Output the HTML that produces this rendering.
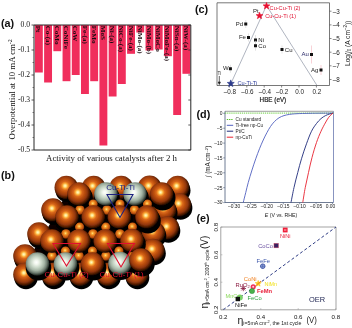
<!DOCTYPE html>
<html><head><meta charset="utf-8"><title>figure</title>
<style>
html,body{margin:0;padding:0;background:#fff;}
body{width:352px;height:328px;overflow:hidden;}
svg{display:block;filter:blur(0.35px);}
text{font-family:"Liberation Sans",sans-serif;}
.ser{font-family:"Liberation Serif",serif;}
.pl{font-weight:bold;font-size:10.8px;fill:#111;}
</style></head><body>
<svg width="352" height="328" viewBox="0 0 352 328">
<defs>
<radialGradient id="cu" cx="0.45" cy="0.43" r="0.58">
<stop offset="0" stop-color="#fffbd0"/><stop offset="0.1" stop-color="#ffe080"/><stop offset="0.2" stop-color="#f8a030"/><stop offset="0.32" stop-color="#d8661a"/><stop offset="0.5" stop-color="#b84c0c"/><stop offset="0.68" stop-color="#94380a"/><stop offset="0.82" stop-color="#5c2004"/><stop offset="0.94" stop-color="#220a00"/><stop offset="1" stop-color="#060100"/>
</radialGradient>
<radialGradient id="cu2" cx="0.45" cy="0.42" r="0.62">
<stop offset="0" stop-color="#ffe890"/><stop offset="0.16" stop-color="#fbb440"/><stop offset="0.4" stop-color="#e67c1a"/><stop offset="0.7" stop-color="#bc500e"/><stop offset="1" stop-color="#4a1a02"/>
</radialGradient>
<radialGradient id="ti" cx="0.45" cy="0.43" r="0.58">
<stop offset="0" stop-color="#ffffff"/><stop offset="0.15" stop-color="#f2f7ee"/><stop offset="0.4" stop-color="#c8d6c6"/><stop offset="0.6" stop-color="#a4b4a4"/><stop offset="0.78" stop-color="#6e7c70"/><stop offset="0.92" stop-color="#2e3830"/><stop offset="1" stop-color="#0a0e0a"/>
</radialGradient>
<filter id="soft" x="-5%" y="-5%" width="110%" height="110%"><feGaussianBlur stdDeviation="0.6"/></filter>
</defs>
<rect width="352" height="328" fill="#fff"/>

<g id="pa">
<text class="pl" x="1" y="26.8">(a)</text>
<rect x="34.90" y="25" width="7.9" height="47.5" fill="#f02e5c"/>
<rect x="44.12" y="25" width="7.9" height="57.5" fill="#f02e5c"/>
<rect x="53.34" y="25" width="7.9" height="26.2" fill="#f02e5c"/>
<rect x="62.56" y="25" width="7.9" height="56.2" fill="#f02e5c"/>
<rect x="71.78" y="25" width="7.9" height="50.0" fill="#f02e5c"/>
<rect x="81.00" y="25" width="7.9" height="69.0" fill="#f02e5c"/>
<rect x="90.22" y="25" width="7.9" height="56.2" fill="#f02e5c"/>
<rect x="99.44" y="25" width="7.9" height="120.5" fill="#f02e5c"/>
<rect x="108.66" y="25" width="7.9" height="71.5" fill="#f02e5c"/>
<rect x="117.88" y="25" width="7.9" height="59.0" fill="#f02e5c"/>
<rect x="127.10" y="25" width="7.9" height="28.8" fill="#f02e5c"/>
<rect x="136.32" y="25" width="7.9" height="7.5" fill="#f02e5c"/>
<rect x="145.54" y="25" width="7.9" height="25.5" fill="#f02e5c"/>
<rect x="154.76" y="25" width="7.9" height="24.5" fill="#f02e5c"/>
<rect x="163.98" y="25" width="7.9" height="31.2" fill="#f02e5c"/>
<rect x="173.20" y="25" width="7.9" height="90.0" fill="#f02e5c"/>
<rect x="182.42" y="25" width="7.9" height="48.8" fill="#f02e5c"/>
<text class="ser" transform="translate(36.40,25.7) rotate(90)" font-size="7.1" font-weight="bold" fill="#1a0a10">Pt</text>
<text class="ser" transform="translate(45.62,25.7) rotate(90)" font-size="7.1" font-weight="bold" fill="#1a0a10">Co-(a)</text>
<text class="ser" transform="translate(54.84,25.7) rotate(90)" font-size="7.1" font-weight="bold" fill="#1a0a10">CoMo</text>
<text class="ser" transform="translate(64.06,25.7) rotate(90)" font-size="7.1" font-weight="bold" fill="#1a0a10">CoNiFe</text>
<text class="ser" transform="translate(73.28,25.7) rotate(90)" font-size="7.1" font-weight="bold" fill="#1a0a10">CoW</text>
<text class="ser" transform="translate(82.50,25.7) rotate(90)" font-size="7.1" font-weight="bold" fill="#1a0a10">Fe-(a)</text>
<text class="ser" transform="translate(91.72,25.7) rotate(90)" font-size="7.1" font-weight="bold" fill="#1a0a10">FeMo</text>
<text class="ser" transform="translate(100.94,25.7) rotate(90)" font-size="7.1" font-weight="bold" fill="#1a0a10">MoS</text>
<text class="ser" transform="translate(110.16,25.7) rotate(90)" font-size="7.1" font-weight="bold" fill="#1a0a10">Ni-(a)</text>
<text class="ser" transform="translate(119.38,25.7) rotate(90)" font-size="7.1" font-weight="bold" fill="#1a0a10">NiCo-(a)</text>
<text class="ser" transform="translate(128.60,25.7) rotate(90)" font-size="7.1" font-weight="bold" fill="#1a0a10">NiFe-(a)</text>
<text class="ser" transform="translate(137.82,25.7) rotate(90)" font-size="7.1" font-weight="bold" fill="#1a0a10">NiMo-(a)</text>
<text class="ser" transform="translate(147.04,25.7) rotate(90)" font-size="7.1" font-weight="bold" fill="#1a0a10">NiMo-(b)</text>
<text class="ser" transform="translate(156.26,25.7) rotate(90)" font-size="7.1" font-weight="bold" fill="#1a0a10">NiMoCo</text>
<text class="ser" transform="translate(165.48,25.7) rotate(90)" font-size="7.1" font-weight="bold" fill="#1a0a10">NiMoFe-(a)</text>
<text class="ser" transform="translate(174.70,25.7) rotate(90)" font-size="7.1" font-weight="bold" fill="#1a0a10">NiSn-(a)</text>
<text class="ser" transform="translate(183.92,25.7) rotate(90)" font-size="7.1" font-weight="bold" fill="#1a0a10">NiW-(a)</text>
<path d="M34 25H190.8V150H34Z" fill="none" stroke="#262626" stroke-width="1"/>
<path d="M34 25h-2.5M190.8 25h-2.5" stroke="#333" stroke-width="0.8"/>
<text class="ser" x="30.1" y="27.0" font-size="7.6" text-anchor="end" fill="#111">0.0</text>
<path d="M34 50h-2.5M190.8 50h-2.5" stroke="#333" stroke-width="0.8"/>
<text class="ser" x="30.1" y="52.0" font-size="7.6" text-anchor="end" fill="#111">-0.1</text>
<path d="M34 75h-2.5M190.8 75h-2.5" stroke="#333" stroke-width="0.8"/>
<text class="ser" x="30.1" y="77.0" font-size="7.6" text-anchor="end" fill="#111">-0.2</text>
<path d="M34 100h-2.5M190.8 100h-2.5" stroke="#333" stroke-width="0.8"/>
<text class="ser" x="30.1" y="102.0" font-size="7.6" text-anchor="end" fill="#111">-0.3</text>
<path d="M34 125h-2.5M190.8 125h-2.5" stroke="#333" stroke-width="0.8"/>
<text class="ser" x="30.1" y="127.0" font-size="7.6" text-anchor="end" fill="#111">-0.4</text>
<path d="M34 150h-2.5M190.8 150h-2.5" stroke="#333" stroke-width="0.8"/>
<text class="ser" x="30.1" y="152.0" font-size="7.6" text-anchor="end" fill="#111">-0.5</text>
<path d="M34 37.5h-1.5" stroke="#333" stroke-width="0.6"/>
<path d="M34 62.5h-1.5" stroke="#333" stroke-width="0.6"/>
<path d="M34 87.5h-1.5" stroke="#333" stroke-width="0.6"/>
<path d="M34 112.5h-1.5" stroke="#333" stroke-width="0.6"/>
<path d="M34 137.5h-1.5" stroke="#333" stroke-width="0.6"/>
<text class="ser" transform="translate(15.3,139.4) rotate(-90)" font-size="8.75" fill="#111">Overpotential at 10 mA cm<tspan font-size="6" dy="-3">-2</tspan></text>
<text class="ser" x="46" y="161" font-size="9" fill="#111" textLength="131" lengthAdjust="spacingAndGlyphs">Activity of various catalysts after 2 h</text>
</g>
<g id="pb">
<text class="pl" x="1" y="178.8">(b)</text>
<g filter="url(#soft)">
<path d="M66 190L177 190L183 210L158 250L142 270L40 270L30 256L45 232L60 208Z" fill="#0c0300"/>
<circle cx="67.3" cy="190.5" r="11.8" fill="#000"/>
<circle cx="66.3" cy="187.5" r="11.8" fill="url(#cu)"/>
<circle cx="94.7" cy="190.5" r="11.8" fill="#000"/>
<circle cx="93.7" cy="187.5" r="11.8" fill="url(#cu)"/>
<circle cx="122.2" cy="190.5" r="11.8" fill="#000"/>
<circle cx="121.2" cy="187.5" r="11.8" fill="url(#cu)"/>
<circle cx="150.6" cy="190.3" r="11.8" fill="#000"/>
<circle cx="149.6" cy="187.3" r="11.8" fill="url(#cu)"/>
<circle cx="178.7" cy="190.5" r="11.8" fill="#000"/>
<circle cx="177.7" cy="187.5" r="11.8" fill="url(#cu)"/>
<circle cx="180.6" cy="208" r="11.8" fill="#000"/>
<circle cx="179.6" cy="205" r="11.8" fill="url(#cu)"/>
<circle cx="54" cy="213" r="11.8" fill="#000"/>
<circle cx="53" cy="210" r="11.8" fill="url(#cu)"/>
<circle cx="165.7" cy="213" r="11.8" fill="#000"/>
<circle cx="164.7" cy="210" r="11.8" fill="url(#cu)"/>
<circle cx="168.5" cy="231" r="11.8" fill="#000"/>
<circle cx="167.5" cy="228" r="11.8" fill="url(#cu)"/>
<circle cx="40" cy="237" r="11.8" fill="#000"/>
<circle cx="39" cy="234" r="11.8" fill="url(#cu)"/>
<circle cx="154.5" cy="236" r="11.8" fill="#000"/>
<circle cx="153.5" cy="233" r="11.8" fill="url(#cu)"/>
<circle cx="154" cy="253.5" r="11.8" fill="#000"/>
<circle cx="153" cy="250.5" r="11.8" fill="url(#cu)"/>
<circle cx="26" cy="259" r="11.8" fill="#000"/>
<circle cx="25" cy="256" r="11.8" fill="url(#cu)"/>
<circle cx="26" cy="277.5" r="11.8" fill="#000"/>
<circle cx="25" cy="274.5" r="11.8" fill="url(#cu)"/>
<circle cx="54" cy="277.5" r="11.8" fill="#000"/>
<circle cx="53" cy="274.5" r="11.8" fill="url(#cu)"/>
<circle cx="81.5" cy="277.5" r="11.8" fill="#000"/>
<circle cx="80.5" cy="274.5" r="11.8" fill="url(#cu)"/>
<circle cx="109" cy="277.5" r="11.8" fill="#000"/>
<circle cx="108" cy="274.5" r="11.8" fill="url(#cu)"/>
<circle cx="137.5" cy="277.5" r="11.8" fill="#000"/>
<circle cx="136.5" cy="274.5" r="11.8" fill="url(#cu)"/>
<circle cx="80" cy="197.8" r="12.8" fill="#000"/>
<circle cx="107" cy="197.8" r="12.8" fill="#000"/>
<circle cx="136" cy="197.8" r="12.8" fill="#000"/>
<circle cx="162.7" cy="197.8" r="12.8" fill="#000"/>
<circle cx="68" cy="220.8" r="12.8" fill="#000"/>
<circle cx="94.3" cy="220.8" r="12.8" fill="#000"/>
<circle cx="120.4" cy="220.8" r="12.8" fill="#000"/>
<circle cx="148" cy="220.8" r="12.8" fill="#000"/>
<circle cx="53" cy="244.8" r="12.8" fill="#000"/>
<circle cx="80" cy="244.8" r="12.8" fill="#000"/>
<circle cx="106.3" cy="244.8" r="12.8" fill="#000"/>
<circle cx="133" cy="244.3" r="12.8" fill="#000"/>
<circle cx="38.5" cy="267.8" r="12.8" fill="#000"/>
<circle cx="66.5" cy="267.8" r="12.8" fill="#000"/>
<circle cx="93.5" cy="267.8" r="12.8" fill="#000"/>
<circle cx="121" cy="267.3" r="12.8" fill="#000"/>
<circle cx="142" cy="263.8" r="12.8" fill="#000"/>
<circle cx="93.2" cy="204" r="4.6" fill="url(#cu2)"/>
<circle cx="120" cy="204" r="4.6" fill="url(#cu2)"/>
<circle cx="147.5" cy="204" r="4.6" fill="url(#cu2)"/>
<circle cx="79.6" cy="227" r="4.6" fill="url(#cu2)"/>
<circle cx="105.8" cy="227" r="4.6" fill="url(#cu2)"/>
<circle cx="132.5" cy="227" r="4.6" fill="url(#cu2)"/>
<circle cx="65.5" cy="251" r="4.6" fill="url(#cu2)"/>
<circle cx="92.5" cy="251" r="4.6" fill="url(#cu2)"/>
<circle cx="119" cy="251" r="4.6" fill="url(#cu2)"/>
<circle cx="80" cy="210" r="4.8" fill="url(#cu2)"/>
<circle cx="107" cy="210" r="4.8" fill="url(#cu2)"/>
<circle cx="134.5" cy="210" r="4.8" fill="url(#cu2)"/>
<circle cx="66" cy="234" r="4.8" fill="url(#cu2)"/>
<circle cx="93" cy="234" r="4.8" fill="url(#cu2)"/>
<circle cx="120" cy="234" r="4.8" fill="url(#cu2)"/>
<circle cx="52" cy="256" r="4.8" fill="url(#cu2)"/>
<circle cx="79" cy="256" r="4.8" fill="url(#cu2)"/>
<circle cx="106" cy="256" r="4.8" fill="url(#cu2)"/>
<circle cx="133" cy="256" r="4.8" fill="url(#cu2)"/>
<circle cx="79" cy="194" r="11.8" fill="url(#cu)"/>
<circle cx="106" cy="194" r="11.8" fill="url(#ti)"/>
<circle cx="135" cy="194" r="11.8" fill="url(#ti)"/>
<circle cx="161.7" cy="194" r="11.8" fill="url(#cu)"/>
<circle cx="67" cy="217" r="11.8" fill="url(#cu)"/>
<circle cx="93.3" cy="217" r="11.8" fill="url(#cu)"/>
<circle cx="119.4" cy="217" r="11.8" fill="url(#cu)"/>
<circle cx="147" cy="217" r="11.8" fill="url(#cu)"/>
<circle cx="52" cy="241" r="11.8" fill="url(#cu)"/>
<circle cx="79" cy="241" r="11.8" fill="url(#cu)"/>
<circle cx="105.3" cy="241" r="11.8" fill="url(#cu)"/>
<circle cx="132" cy="240.5" r="11.8" fill="url(#cu)"/>
<circle cx="37.5" cy="264" r="11.8" fill="url(#ti)"/>
<circle cx="65.5" cy="264" r="11.8" fill="url(#ti)"/>
<circle cx="92.5" cy="264" r="11.8" fill="url(#cu)"/>
<circle cx="120" cy="263.5" r="11.8" fill="url(#ti)"/>
<circle cx="141" cy="260" r="11.8" fill="url(#cu)"/>
</g>
<path d="M107 194.5H133L120 217.5Z" fill="none" stroke="#1c2080" stroke-width="1.1"/>
<path d="M53 243.5H80.5L66.5 266Z" fill="none" stroke="#e01030" stroke-width="1.1"/>
<path d="M107.5 243.5H134.5L121 267Z" fill="none" stroke="#e01030" stroke-width="1.1"/>
<text x="120.5" y="189.8" font-size="8.1" text-anchor="middle" fill="#1c2080">Cu-Ti-Ti</text>
<text x="66.6" y="277.3" font-size="8" text-anchor="middle" fill="#e01030">Cu-Cu-Ti (2)</text>
<text x="121.6" y="277.3" font-size="8" text-anchor="middle" fill="#e01030">Cu-Cu-Ti (1)</text>
</g>
<g id="pc">
<text class="pl" x="195" y="12.5">(c)</text>
<path d="M217 2.8H329.5V85.5H217Z" fill="none" stroke="#555" stroke-width="0.8"/>
<path d="M230.7 84L266.5 5.5L317 85.5" fill="none" stroke="#6e788c" stroke-width="0.55"/>
<path d="M229.4 85.5v2" stroke="#555" stroke-width="0.7"/>
<text x="230.0" y="94.3" font-size="6.3" text-anchor="middle" fill="#222">–0.8</text>
<path d="M246.8 85.5v2" stroke="#555" stroke-width="0.7"/>
<text x="247.4" y="94.3" font-size="6.3" text-anchor="middle" fill="#222">–0.6</text>
<path d="M264.2 85.5v2" stroke="#555" stroke-width="0.7"/>
<text x="264.8" y="94.3" font-size="6.3" text-anchor="middle" fill="#222">–0.4</text>
<path d="M281.6 85.5v2" stroke="#555" stroke-width="0.7"/>
<text x="282.2" y="94.3" font-size="6.3" text-anchor="middle" fill="#222">–0.2</text>
<path d="M299.0 85.5v2" stroke="#555" stroke-width="0.7"/>
<text x="299.6" y="94.3" font-size="6.3" text-anchor="middle" fill="#222">0.0</text>
<path d="M316.4 85.5v2" stroke="#555" stroke-width="0.7"/>
<text x="317.0" y="94.3" font-size="6.3" text-anchor="middle" fill="#222">0.2</text>
<path d="M329.5 79.5h2" stroke="#555" stroke-width="0.7"/>
<text x="332.8" y="81.8" font-size="6.3" fill="#222">–8</text>
<path d="M329.5 65.8h2" stroke="#555" stroke-width="0.7"/>
<text x="332.8" y="68.1" font-size="6.3" fill="#222">–7</text>
<path d="M329.5 52.2h2" stroke="#555" stroke-width="0.7"/>
<text x="332.8" y="54.5" font-size="6.3" fill="#222">–6</text>
<path d="M329.5 38.5h2" stroke="#555" stroke-width="0.7"/>
<text x="332.8" y="40.8" font-size="6.3" fill="#222">–5</text>
<path d="M329.5 24.9h2" stroke="#555" stroke-width="0.7"/>
<text x="332.8" y="27.2" font-size="6.3" fill="#222">–4</text>
<path d="M329.5 11.2h2" stroke="#555" stroke-width="0.7"/>
<text x="332.8" y="13.6" font-size="6.3" fill="#222">–3</text>
<text x="272.9" y="102.1" font-size="6.3" text-anchor="middle" fill="#111" stroke="#111" stroke-width="0.15">HBE (eV)</text>
<text transform="translate(349.5,66) rotate(-90)" font-size="6.6" fill="#222">Log(<tspan font-style="italic">j</tspan><tspan font-size="4.5" dy="1.2">0</tspan><tspan dy="-1.2"> (A cm</tspan><tspan font-size="4.5" dy="-2.2">–2</tspan><tspan dy="2.2">))</tspan></text>
<path d="M245.75 20V28" stroke="#d4d4d4" stroke-width="0.6"/>
<rect x="244.25" y="22.5" width="3" height="3" fill="#111"/>
<text x="243.15" y="25.7" font-size="6" text-anchor="end" fill="#222">Pd</text>
<path d="M248.5 33.5V41.5" stroke="#d4d4d4" stroke-width="0.6"/>
<rect x="247.0" y="36.0" width="3" height="3" fill="#111"/>
<text x="245.9" y="39.2" font-size="6" text-anchor="end" fill="#222">Fe</text>
<path d="M255.5 35V45" stroke="#d4d4d4" stroke-width="0.6"/>
<rect x="254.0" y="38.5" width="3" height="3" fill="#111"/>
<text x="258.3" y="42.3" font-size="6" fill="#222">Ni</text>
<path d="M255.5 40.75V50.75" stroke="#d4d4d4" stroke-width="0.6"/>
<rect x="254.0" y="44.25" width="3" height="3" fill="#111"/>
<text x="258.3" y="48.05" font-size="6" fill="#222">Co</text>
<path d="M230.4 64.75V72.75" stroke="#d4d4d4" stroke-width="0.6"/>
<rect x="228.9" y="67.25" width="3" height="3" fill="#111"/>
<text x="228.70000000000002" y="70.45" font-size="6" text-anchor="end" fill="#222">W</text>
<path d="M282 45.5V53.5" stroke="#d4d4d4" stroke-width="0.6"/>
<rect x="280.5" y="48.0" width="3" height="3" fill="#111"/>
<text x="284.8" y="51.8" font-size="6" fill="#222">Cu</text>
<path d="M311.5 45.5V63.5" stroke="#f4b4bc" stroke-width="0.6"/>
<rect x="310.0" y="53.0" width="3" height="3" fill="#111"/>
<text x="308.9" y="56.2" font-size="6" text-anchor="end" fill="#2a2a6a">Au</text>
<path d="M321 65V75" stroke="#f4b4bc" stroke-width="0.6"/>
<rect x="319.5" y="68.5" width="3" height="3" fill="#111"/>
<text x="318.4" y="71.7" font-size="6" text-anchor="end" fill="#222">Ag</text>
<text x="253" y="13.4" font-size="6" fill="#222">Pt</text>
<polygon points="266.50,2.40 267.39,4.78 269.92,4.89 267.94,6.47 268.62,8.91 266.50,7.51 264.38,8.91 265.06,6.47 263.08,4.89 265.61,4.78" fill="#e81030" stroke="#e81030" stroke-width="0.6"/>
<polygon points="259.50,12.15 260.39,14.53 262.92,14.64 260.94,16.22 261.62,18.66 259.50,17.26 257.38,18.66 258.06,16.22 256.08,14.64 258.61,14.53" fill="#e81030" stroke="#e81030" stroke-width="0.6"/>
<polygon points="230.75,79.90 231.66,82.34 234.27,82.46 232.23,84.08 232.92,86.59 230.75,85.15 228.58,86.59 229.27,84.08 227.23,82.46 229.84,82.34" fill="#2c3a8c" stroke="#2c3a8c" stroke-width="0.6"/>
<text x="269.6" y="10.1" font-size="5.6" fill="#e01030">Cu-Cu-Ti (2)</text>
<text x="265.2" y="18.1" font-size="5.6" fill="#e01030">Cu-Cu-Ti (1)</text>
<text x="237.5" y="85" font-size="5.6" fill="#2a3a9a">Cu-Ti-Ti</text>
<text x="217.6" y="74.5" font-size="4.6" fill="#333">Ti</text>
<path d="M219.3 76V83.5M218.2 82l1.1 2.5l1.1-2.5Z" stroke="#222" stroke-width="0.7" fill="#222"/>
</g>
<g id="pd">
<text class="pl" x="196.5" y="118.4">(d)</text>
<path d="M225 111.3H333.5" stroke="#888" stroke-width="0.8" fill="none"/>
<path d="M225 111.3V202.5H333.5" stroke="#4a5a78" stroke-width="0.8" fill="none"/>
<path d="M333.5 111.3V202.5" stroke="#6a78b0" stroke-width="0.8" fill="none"/>
<path d="M225 113.3h-1.8" stroke="#4a5a78" stroke-width="0.6"/>
<text x="222.4" y="115.1" font-size="4.9" text-anchor="end" fill="#222">0</text>
<path d="M225 128.2h-1.8" stroke="#4a5a78" stroke-width="0.6"/>
<text x="222.4" y="130.0" font-size="4.9" text-anchor="end" fill="#222">–5</text>
<path d="M225 143.1h-1.8" stroke="#4a5a78" stroke-width="0.6"/>
<text x="222.4" y="144.9" font-size="4.9" text-anchor="end" fill="#222">–10</text>
<path d="M225 157.9h-1.8" stroke="#4a5a78" stroke-width="0.6"/>
<text x="222.4" y="159.7" font-size="4.9" text-anchor="end" fill="#222">–15</text>
<path d="M225 172.8h-1.8" stroke="#4a5a78" stroke-width="0.6"/>
<text x="222.4" y="174.6" font-size="4.9" text-anchor="end" fill="#222">–20</text>
<path d="M225 187.7h-1.8" stroke="#4a5a78" stroke-width="0.6"/>
<text x="222.4" y="189.5" font-size="4.9" text-anchor="end" fill="#222">–25</text>
<path d="M225 202.6h-1.8" stroke="#4a5a78" stroke-width="0.6"/>
<text x="222.4" y="204.4" font-size="4.9" text-anchor="end" fill="#222">–30</text>
<path d="M234.1 202.5v1.8" stroke="#4a5a78" stroke-width="0.6"/>
<text x="234.1" y="207.9" font-size="4.9" text-anchor="middle" fill="#222">–0.30</text>
<path d="M250.5 202.5v1.8" stroke="#4a5a78" stroke-width="0.6"/>
<text x="250.5" y="207.9" font-size="4.9" text-anchor="middle" fill="#222">–0.25</text>
<path d="M266.9 202.5v1.8" stroke="#4a5a78" stroke-width="0.6"/>
<text x="266.9" y="207.9" font-size="4.9" text-anchor="middle" fill="#222">–0.20</text>
<path d="M283.3 202.5v1.8" stroke="#4a5a78" stroke-width="0.6"/>
<text x="283.3" y="207.9" font-size="4.9" text-anchor="middle" fill="#222">–0.15</text>
<path d="M299.7 202.5v1.8" stroke="#4a5a78" stroke-width="0.6"/>
<text x="299.7" y="207.9" font-size="4.9" text-anchor="middle" fill="#222">–0.10</text>
<path d="M316.1 202.5v1.8" stroke="#4a5a78" stroke-width="0.6"/>
<text x="316.1" y="207.9" font-size="4.9" text-anchor="middle" fill="#222">–0.05</text>
<path d="M332.5 202.5v1.8" stroke="#4a5a78" stroke-width="0.6"/>
<text x="330.5" y="207.9" font-size="4.9" text-anchor="middle" fill="#222">0.00</text>
<text x="281" y="216.6" font-size="5.2" text-anchor="middle" fill="#222"><tspan font-style="italic">E</tspan> (V vs. RHE)</text>
<text transform="translate(209.6,177) rotate(-90)" font-size="6.3" fill="#222"><tspan font-style="italic">j</tspan> (mA cm<tspan font-size="4.2" dy="-2">–2</tspan><tspan dy="2">)</tspan></text>
<path d="M225 113.1H333.5" stroke="#5cc830" stroke-width="0.9" stroke-dasharray="1.3 0.8" fill="none"/>
<path d="M243.25 202.50C243.67 200.83 244.92 195.83 245.75 192.50C246.58 189.17 247.21 186.25 248.25 182.50C249.29 178.75 250.75 173.96 252.00 170.00C253.25 166.04 254.50 162.29 255.75 158.75C257.00 155.21 258.25 151.88 259.50 148.75C260.75 145.62 262.00 142.71 263.25 140.00C264.50 137.29 265.79 134.75 267.00 132.50C268.21 130.25 269.25 128.33 270.50 126.50C271.75 124.67 273.08 122.95 274.50 121.50C275.92 120.05 277.42 118.78 279.00 117.80C280.58 116.82 282.25 116.17 284.00 115.60C285.75 115.03 287.33 114.72 289.50 114.40C291.67 114.08 293.58 113.88 297.00 113.70C300.42 113.52 304.00 113.40 310.00 113.30C316.00 113.20 329.17 113.13 333.00 113.10" fill="none" stroke="#5060c0" stroke-width="0.9"/>
<path d="M291.00 202.50C291.50 200.00 292.88 192.50 294.00 187.50C295.12 182.50 296.50 177.29 297.75 172.50C299.00 167.71 300.04 163.54 301.50 158.75C302.96 153.96 304.83 148.33 306.50 143.75C308.17 139.17 309.83 134.62 311.50 131.25C313.17 127.88 314.92 125.61 316.50 123.50C318.08 121.39 319.50 119.92 321.00 118.60C322.50 117.28 324.08 116.37 325.50 115.60C326.92 114.83 328.25 114.42 329.50 114.00C330.75 113.58 332.42 113.25 333.00 113.10" fill="none" stroke="#1e2a7a" stroke-width="0.9"/>
<path d="M302.75 202.50C303.17 200.00 304.29 192.50 305.25 187.50C306.21 182.50 307.38 177.50 308.50 172.50C309.62 167.50 310.67 162.50 312.00 157.50C313.33 152.50 315.00 146.88 316.50 142.50C318.00 138.12 319.54 134.50 321.00 131.25C322.46 128.00 324.00 125.28 325.25 123.00C326.50 120.72 327.54 118.97 328.50 117.60C329.46 116.23 330.25 115.55 331.00 114.80C331.75 114.05 332.67 113.38 333.00 113.10" fill="none" stroke="#e8202e" stroke-width="0.9"/>
<path d="M226.8 119.5H233.2" stroke="#59c22c" stroke-width="1" stroke-dasharray="1.4 0.8"/>
<text x="235.6" y="121.2" font-size="4.7" fill="#222">Cu standard</text>
<path d="M226.8 125.3H233.2" stroke="#5060c0" stroke-width="1"/>
<text x="235.6" y="127.0" font-size="4.7" fill="#222">Ti-free np-Cu</text>
<path d="M226.8 131.2H233.2" stroke="#1e2a7a" stroke-width="1"/>
<text x="235.6" y="132.89999999999998" font-size="4.7" fill="#222">Pt/C</text>
<path d="M226.8 137.2H233.2" stroke="#e8202e" stroke-width="1"/>
<text x="235.6" y="138.89999999999998" font-size="4.7" fill="#222">np-CuTi</text>
</g>
<g id="pe">
<text class="pl" x="196.5" y="221.8">(e)</text>
<path d="M220.8 227H336V309.8H220.8Z" fill="none" stroke="#999" stroke-width="0.9"/>
<path d="M223.25 309.75L336 227" stroke="#2e3c84" stroke-width="1" stroke-dasharray="3 2.3" fill="none"/>
<text x="223.2" y="318.7" font-size="6.1" text-anchor="middle" fill="#111">0.2</text>
<text transform="translate(217.6,309.8) rotate(-90)" font-size="6.1" text-anchor="middle" fill="#111">0.2</text>
<path d="M220.8 309.8h1.6M223.2 309.8v-1.6" stroke="#999" stroke-width="0.6"/>
<text x="260.8" y="318.7" font-size="6.1" text-anchor="middle" fill="#111">0.4</text>
<text transform="translate(217.6,282.2) rotate(-90)" font-size="6.1" text-anchor="middle" fill="#111">0.4</text>
<path d="M220.8 282.2h1.6M260.8 309.8v-1.6" stroke="#999" stroke-width="0.6"/>
<text x="298.2" y="318.7" font-size="6.1" text-anchor="middle" fill="#111">0.6</text>
<text transform="translate(217.6,254.8) rotate(-90)" font-size="6.1" text-anchor="middle" fill="#111">0.6</text>
<path d="M220.8 254.8h1.6M298.2 309.8v-1.6" stroke="#999" stroke-width="0.6"/>
<text x="335.8" y="318.7" font-size="6.1" text-anchor="middle" fill="#111">0.8</text>
<text transform="translate(217.6,227.2) rotate(-90)" font-size="6.1" text-anchor="middle" fill="#111">0.8</text>
<path d="M220.8 227.2h1.6M335.8 309.8v-1.6" stroke="#999" stroke-width="0.6"/>
<text x="309" y="302.4" font-size="8.1" fill="#1c2250" textLength="16.2" lengthAdjust="spacingAndGlyphs">OER</text>
<text x="237.5" y="323.5" font-size="10.5" fill="#222">η<tspan font-size="5.2" dy="1.6">i=5mA cm</tspan><tspan font-size="3.8" dy="-2">-2</tspan><tspan font-size="5.2" dy="2">, the 1st cycle</tspan></text>
<text x="306.4" y="323.4" font-size="8.8" fill="#222" textLength="10.4" lengthAdjust="spacingAndGlyphs">(V)</text>
<text transform="translate(207.8,308.5) rotate(-90)" font-size="10.5" fill="#222">η<tspan font-size="4.8" dy="1.6">i=5mA cm</tspan><tspan font-size="3.6" dy="-2">-2</tspan><tspan font-size="4.8" dy="2">, 2000</tspan><tspan font-size="3.6" dy="-2">th</tspan><tspan font-size="4.8" dy="2"> cycle</tspan></text>
<text transform="translate(208,249) rotate(-90)" font-size="10" fill="#222">(V)</text>
<rect x="282.8" y="227.6" width="4.8" height="4.8" fill="#f0203a"/><path d="M284 230h2.4" stroke="#fff" stroke-width="0.7"/>
<text x="285.3" y="237.8" font-size="5.6" text-anchor="middle" fill="#e8203a">NiNi</text>
<rect x="274" y="243.4" width="4.4" height="4.4" fill="#3a2060" stroke="#c04060" stroke-width="0.5"/>
<text x="273" y="247.6" font-size="5.8" text-anchor="end" fill="#6a50a0">CoCo</text>
<circle cx="262.75" cy="266.2" r="2.3" fill="#9ab0e0" stroke="#30449a" stroke-width="0.8"/><path d="M260.5 266.2h4.5M262.75 264v4.5" stroke="#30449a" stroke-width="0.5"/>
<text x="263.2" y="263" font-size="5.8" text-anchor="middle" fill="#3a55aa">FeFe</text>
<text x="250.2" y="281" font-size="5.8" text-anchor="middle" fill="#f08020">CoNi</text>
<polygon points="258.20,280.40 258.99,282.51 261.24,282.61 259.48,284.02 260.08,286.19 258.20,284.94 256.32,286.19 256.92,284.02 255.16,282.61 257.41,282.51" fill="#f7c81e" stroke="#f7c81e" stroke-width="0.6"/>
<path d="M255.5 286l5.5-5" stroke="#f08020" stroke-width="1"/>
<text x="264.5" y="285.8" font-size="5.4" fill="#f2e21e">NiMn</text>
<circle cx="253.2" cy="286.8" r="2.6" fill="#f0305a"/><circle cx="253.2" cy="286.8" r="1" fill="#ffd0d8"/>
<text x="257" y="293" font-size="5.8" font-weight="bold" fill="#e8203a">FeMn</text>
<path d="M240.6 288.5h5.4M243.3 285.8v5.4M241.4 286.6l3.8 3.8M245.2 286.6l-3.8 3.8" stroke="#8a1a40" stroke-width="0.8"/>
<text x="235.5" y="286.8" font-size="5.8" fill="#8a1a40">RuO<tspan font-size="4" dy="1">2</tspan></text>
<circle cx="252" cy="291" r="2.6" fill="#4ab04a" stroke="#2a8a3a" stroke-width="0.5"/>
<text x="247.5" y="299.8" font-size="5.8" fill="#30a040">FeCo</text>
<circle cx="239.8" cy="297.6" r="3" fill="#7ad06a"/>
<text x="225.6" y="298" font-size="5.6" fill="#8ad85a">MnCo</text>
<rect x="235.6" y="296.8" width="4.4" height="4.4" fill="#111"/>
<text x="235" y="306.8" font-size="5.8" fill="#111">NiFe</text>
</g>
</svg></body></html>
